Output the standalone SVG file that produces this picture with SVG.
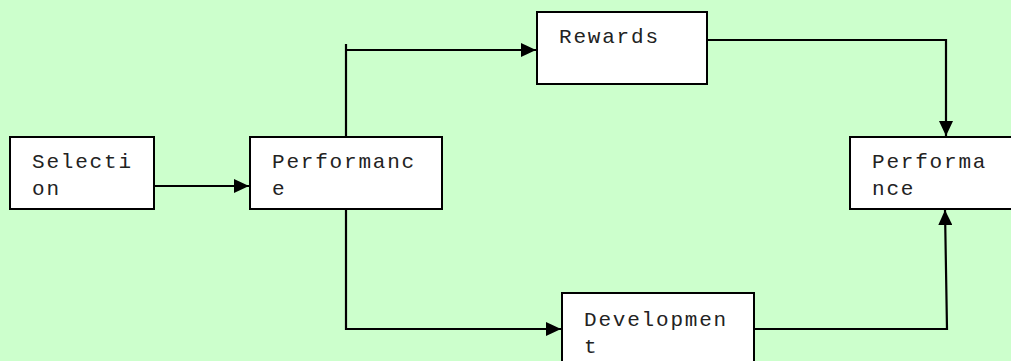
<svg xmlns="http://www.w3.org/2000/svg" width="1011" height="361" viewBox="0 0 1011 361">
  <style>
    .box { fill: #ffffff; stroke: #000000; stroke-width: 2; }
    .lbl { font-family: "Liberation Mono", "Courier New", monospace; font-size: 21px; letter-spacing: 1.8px; fill: #222222; }
    .wire { fill: none; stroke: #000000; stroke-width: 2.2; }
  </style>
  <defs>
    <marker id="arrow" markerWidth="16" markerHeight="14" refX="15" refY="7" orient="auto" markerUnits="userSpaceOnUse">
      <path d="M0,0 L15,7 L0,14 Z" fill="#000000"/>
    </marker>
  </defs>
  <rect x="0" y="0" width="1011" height="361" fill="#ccffcc"/>

  <g id="connectors">
    <!-- Selection to Performance -->
    <path class="wire" d="M154,186 L249,186" marker-end="url(#arrow)"/>
    <!-- Performance up to Rewards -->
    <path class="wire" d="M346,137 L346,44"/>
    <path class="wire" d="M346,50 L536,50" marker-end="url(#arrow)"/>
    <!-- Performance down to Development -->
    <path class="wire" d="M346,209 L346,329 L561,329" marker-end="url(#arrow)"/>
    <!-- Rewards to outcome Performance -->
    <path class="wire" d="M707,40 L946,40 L946,136" marker-end="url(#arrow)"/>
    <!-- Development to outcome Performance -->
    <path class="wire" d="M754,329 L947,329 L945,210" marker-end="url(#arrow)"/>
  </g>

  <g id="selection">
    <rect class="box" x="10" y="137" width="144" height="72"/>
    <text class="lbl" x="32" y="168">Selecti</text>
    <text class="lbl" x="32" y="195">on</text>
  </g>

  <g id="performance">
    <rect class="box" x="250" y="137" width="192" height="72"/>
    <text class="lbl" x="272" y="168">Performanc</text>
    <text class="lbl" x="272" y="195">e</text>
  </g>

  <g id="rewards">
    <rect class="box" x="537" y="12" width="170" height="72"/>
    <text class="lbl" x="559" y="43">Rewards</text>
  </g>

  <g id="development">
    <rect class="box" x="562" y="293" width="192" height="80"/>
    <text class="lbl" x="584" y="326">Developmen</text>
    <text class="lbl" x="584" y="353">t</text>
  </g>

  <g id="performance-outcome">
    <rect class="box" x="850" y="137" width="180" height="72"/>
    <text class="lbl" x="872" y="168">Performa</text>
    <text class="lbl" x="872" y="195">nce</text>
  </g>
</svg>
